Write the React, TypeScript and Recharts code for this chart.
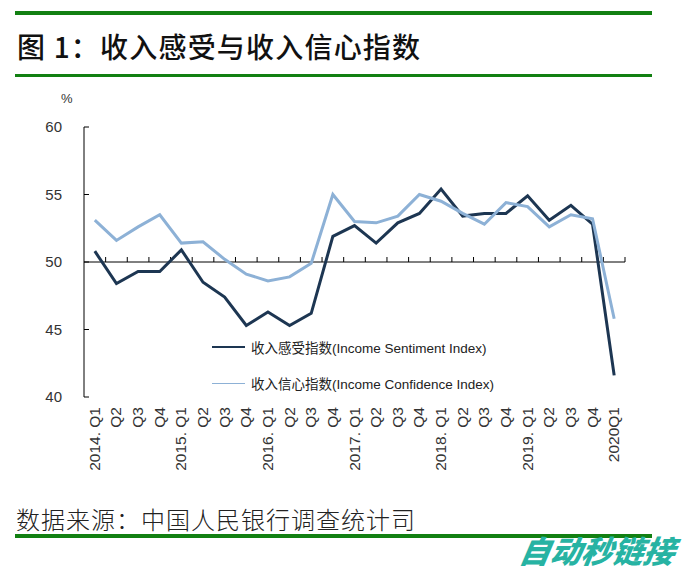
import { LineChart, Line, XAxis, YAxis, ReferenceLine, Legend } from 'recharts'

// ── Data ────────────────────────────────────────────────────────────────────

const quarters = [
  '2014. Q1', 'Q2', 'Q3', 'Q4',
  '2015. Q1', 'Q2', 'Q3', 'Q4',
  '2016. Q1', 'Q2', 'Q3', 'Q4',
  '2017. Q1', 'Q2', 'Q3', 'Q4',
  '2018. Q1', 'Q2', 'Q3', 'Q4',
  '2019. Q1', 'Q2', 'Q3', 'Q4',
  '2020Q1',
]

// 收入感受指数 (Income Sentiment Index)
const sentiment = [
  50.8, 48.4, 49.3, 49.3,
  50.9, 48.5, 47.4, 45.3,
  46.3, 45.3, 46.2, 51.9,
  52.7, 51.4, 52.9, 53.6,
  55.4, 53.4, 53.6, 53.6,
  54.9, 53.1, 54.2, 52.8,
  41.6,
]

// 收入信心指数 (Income Confidence Index)
const confidence = [
  53.1, 51.6, 52.6, 53.5,
  51.4, 51.5, 50.2, 49.1,
  48.6, 48.9, 49.9, 55.0,
  53.0, 52.9, 53.4, 55.0,
  54.5, 53.6, 52.8, 54.4,
  54.1, 52.6, 53.5, 53.2,
  45.8,
]

const yTicks = [40, 45, 50, 55, 60]

const SENT_NAME = '收入感受指数(Income Sentiment Index)'
const CONF_NAME = '收入信心指数(Income Confidence Index)'
const legendOrder = [SENT_NAME, CONF_NAME]

const DARK  = '#1d3652'
const LIGHT = '#8db1d6'
const GREEN = '#128012'

const FONT = "'Liberation Sans', 'Noto Sans CJK SC', sans-serif"

// ── Helpers ─────────────────────────────────────────────────────────────────

const data = quarters.map((q, i) => ({
  i,
  q,
  sentiment:  sentiment[i],
  confidence: confidence[i],
}))

const xIdx = quarters.map((_, i) => i)

// eslint-disable-next-line @typescript-eslint/no-explicit-any
const QuarterTick = ({ x, y, payload }: any) => {
  const label = quarters[payload.value] ?? ''
  const ty = y + 2
  return (
    <text
      x={x + 5}
      y={ty}
      transform={`rotate(-90, ${x + 5}, ${ty})`}
      textAnchor="end"
      fontSize={15.5}
      fill="#333"
      fontFamily={FONT}
    >
      {label}
    </text>
  )
}

// eslint-disable-next-line @typescript-eslint/no-explicit-any
const LegendBox = ({ payload }: any) => {
  const items = legendOrder
    .map((name) => (payload ?? []).find((p: { value: string }) => p.value === name))
    .filter(Boolean)
  return (
    <div style={{ fontFamily: FONT, fontSize: 13.5, color: '#222' }}>
      {items.map((p: { value: string; color: string }, k: number) => (
        <div key={k} style={{ display: 'flex', alignItems: 'center', height: 36 }}>
          <span
            style={{
              display: 'inline-block', width: 33, height: k === 0 ? 2 : 1,
              background: p.color, marginRight: 6,
            }}
          />
          <span>{p.value}</span>
        </div>
      ))}
    </div>
  )
}

// ── Component ───────────────────────────────────────────────────────────────

export default function App() {
  return (
    <div
      style={{
        position: 'absolute', left: 0, top: 0, width: 700, height: 573,
        background: '#fff', fontFamily: FONT, overflow: 'hidden',
      }}
    >
      <div style={{ position: 'absolute', left: 15, top: 11, width: 637, height: 4, background: GREEN }} />
      <div
        style={{
          position: 'absolute', left: 17, top: 26, fontSize: 28, lineHeight: '40px',
          fontFamily: "'Noto Sans CJK SC', sans-serif", fontWeight: 500, color: '#111',
          whiteSpace: 'nowrap', letterSpacing: 1.2,
        }}
      >
        图 1：收入感受与收入信心指数
      </div>
      <div style={{ position: 'absolute', left: 15, top: 74, width: 637, height: 3, background: GREEN }} />

      <div style={{ position: 'absolute', left: 61, top: 91, fontSize: 13, color: '#333' }}>%</div>

      <div style={{ position: 'absolute', left: 0, top: 0 }}>
        <LineChart
          width={700}
          height={573}
          data={data}
          margin={{ top: 127, right: 75, bottom: 86, left: 0 }}
        >
          <XAxis
            xAxisId={0}
            dataKey="i"
            type="number"
            domain={[-0.5, 24.5]}
            ticks={xIdx}
            interval={0}
            axisLine={false}
            tickLine={false}
            height={90}
            tick={<QuarterTick />}
          />
          <YAxis
            domain={[40, 60]}
            ticks={yTicks}
            width={84}
            axisLine={{ stroke: '#000', strokeWidth: 1 }}
            tickLine={{ stroke: '#000', strokeWidth: 1 }}
            tickSize={-5}
            tickMargin={27}
            tick={{ fill: '#333', fontSize: 15, fontFamily: FONT }}
          />
          <ReferenceLine y={50} stroke="#000" strokeWidth={1} />
          {xIdx.map((i) => (
            <ReferenceLine
              key={i}
              segment={[{ x: i + 0.5, y: 50 }, { x: i + 0.5, y: 50.37 }]}
              stroke="#000"
              strokeWidth={1}
              ifOverflow="visible"
            />
          ))}
          <Legend
            layout="vertical"
            align="center"
            verticalAlign="middle"
            content={<LegendBox />}
            wrapperStyle={{ left: 212, top: 329, width: 330 }}
          />
          <Line
            type="linear"
            dataKey="sentiment"
            name={SENT_NAME}
            stroke={DARK}
            strokeWidth={3}
            dot={false}
            isAnimationActive={false}
          />
          <Line
            type="linear"
            dataKey="confidence"
            name={CONF_NAME}
            stroke={LIGHT}
            strokeWidth={3}
            dot={false}
            isAnimationActive={false}
          />
        </LineChart>
      </div>

      <div
        style={{
          position: 'absolute', left: 16, top: 503, fontSize: 24, lineHeight: '32px',
          fontFamily: "'Noto Sans CJK SC', sans-serif", fontWeight: 300, color: '#222',
          whiteSpace: 'nowrap', letterSpacing: 1,
        }}
      >
        数据来源：中国人民银行调查统计司
      </div>
      <div style={{ position: 'absolute', left: 15, top: 534, width: 637, height: 4, background: GREEN }} />
      <div
        style={{
          position: 'absolute', left: 520, top: 530, fontSize: 31, lineHeight: '40px',
          fontFamily: "'Noto Sans CJK SC', sans-serif", fontWeight: 900, fontStyle: 'italic',
          color: '#27b3a3', transform: 'skewX(-10deg)', whiteSpace: 'nowrap',
        }}
      >
        自动秒链接
      </div>
    </div>
  )
}
